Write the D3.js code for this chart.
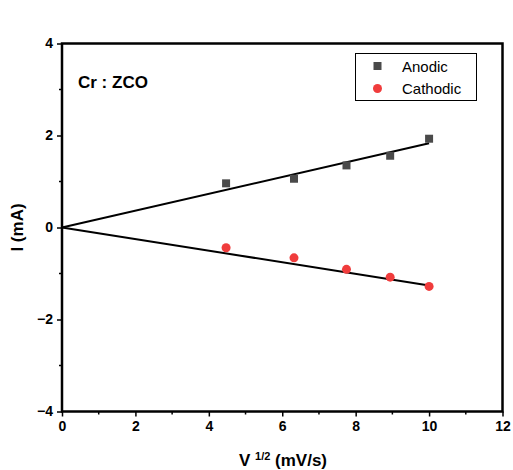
<!DOCTYPE html>
<html>
<head>
  <meta charset="utf-8">
  <title></title>
  <style>
    body { margin: 0; background: #fff; }
    text { font-family: "Liberation Sans", Arial, sans-serif; }
    .axis text { font-weight: bold; font-size: 14px; fill: #000; }
    .axis path, .axis line { stroke: #000; }
  </style>
</head>
<body>
<svg width="513" height="470"></svg>
<script src="https://cdn.jsdelivr.net/npm/d3@7"></script>
<script>

// sqrt of scan rate (20, 40, 60, 80, 100 mV/s)
var sqrtRate = [4.47, 6.32, 7.75, 8.94, 10];
var anodic = [0.96, 1.06, 1.35, 1.56, 1.93];
var cathodic = [-0.44, -0.66, -0.91, -1.08, -1.28];
// linear fits through the origin
var fitAnodic = [[0, 0], [10, 1.83]];
var fitCathodic = [[0, 0], [10, -1.26]];
var xTicks = [0, 2, 4, 6, 8, 10, 12];
var yTicks = [-4, -2, 0, 2, 4];

var svg = d3.select("svg");

var pLeft = 62, pRight = 502.5, pTop = 43.5, pBottom = 411.5;

var x = d3.scaleLinear().domain([0, 12]).range([pLeft, pRight]);
var y = d3.scaleLinear().domain([-4, 4]).range([pBottom, pTop]);

// minor ticks
svg.append("g")
	.attr("transform", "translate(0," + pBottom + ")")
	.selectAll("line")
	.data(d3.range(1, 12, 2))
	.enter().append("line")
	.attr("x1", function(d) { return x(d); })
	.attr("x2", function(d) { return x(d); })
	.attr("y1", 0).attr("y2", 3)
	.attr("stroke", "#000").attr("stroke-width", 1.5);

svg.append("g")
	.selectAll("line")
	.data(d3.range(-3, 4, 2))
	.enter().append("line")
	.attr("y1", function(d) { return y(d); })
	.attr("y2", function(d) { return y(d); })
	.attr("x1", pLeft).attr("x2", pLeft - 3)
	.attr("stroke", "#000").attr("stroke-width", 1.5);

var xAxis = svg.append("g")
	.attr("class", "axis")
	.attr("transform", "translate(0," + pBottom + ")")
	.call(d3.axisBottom(x).tickValues(xTicks).tickSize(5).tickSizeOuter(0).tickPadding(5));

var yAxis = svg.append("g")
	.attr("class", "axis")
	.attr("transform", "translate(" + pLeft + ",0)")
	.call(d3.axisLeft(y).tickValues(yTicks).tickSize(5).tickSizeOuter(0).tickPadding(4)
		.tickFormat(function(d) { return d < 0 ? "\u2212" + Math.abs(d) : d; }));

xAxis.selectAll("line").attr("stroke-width", 1.5);
yAxis.selectAll("line").attr("stroke-width", 1.5);
xAxis.select(".domain").remove();
yAxis.select(".domain").remove();

// frame
svg.append("rect")
	.attr("x", pLeft).attr("y", pTop)
	.attr("width", pRight - pLeft).attr("height", pBottom - pTop)
	.attr("fill", "none").attr("stroke", "#000").attr("stroke-width", 2.5);

// fit lines
var line = d3.line()
	.x(function(d) { return x(d[0]); })
	.y(function(d) { return y(d[1]); });

svg.append("path").datum(fitAnodic)
	.attr("d", line).attr("fill", "none").attr("stroke", "#000").attr("stroke-width", 2);
svg.append("path").datum(fitCathodic)
	.attr("d", line).attr("fill", "none").attr("stroke", "#000").attr("stroke-width", 2);

// points
svg.append("g").selectAll("rect")
	.data(anodic)
	.enter().append("rect")
	.attr("x", function(d, i) { return x(sqrtRate[i]) - 4; })
	.attr("y", function(d) { return y(d) - 4; })
	.attr("width", 8).attr("height", 8)
	.attr("fill", "#4a4a4a");

svg.append("g").selectAll("circle")
	.data(cathodic)
	.enter().append("circle")
	.attr("cx", function(d, i) { return x(sqrtRate[i]); })
	.attr("cy", function(d) { return y(d); })
	.attr("r", 4.5)
	.attr("fill", "#f03c3c");

// legend
var lg = svg.append("g");
lg.append("rect")
	.attr("x", 355.5).attr("y", 53.5).attr("width", 121).attr("height", 47)
	.attr("fill", "#fff").attr("stroke", "#000").attr("stroke-width", 1);
lg.append("rect")
	.attr("x", 373.5).attr("y", 62).attr("width", 8).attr("height", 8).attr("fill", "#4a4a4a");
lg.append("circle")
	.attr("cx", 377.5).attr("cy", 88.5).attr("r", 4.5).attr("fill", "#f03c3c");
lg.append("text")
	.attr("x", 402).attr("y", 71.5)
	.attr("font-size", "15px").text("Anodic");
lg.append("text")
	.attr("x", 402).attr("y", 94)
	.attr("font-size", "15px").text("Cathodic");

// sample label
svg.append("text")
	.attr("x", 78).attr("y", 88)
	.attr("font-size", "17px").attr("font-weight", "bold")
	.text("Cr : ZCO");

// axis titles
svg.append("text")
	.attr("transform", "translate(23," + y(0) + ") rotate(-90)")
	.attr("text-anchor", "middle")
	.attr("font-size", "17px").attr("font-weight", "bold")
	.text("I (mA)");

var xt = svg.append("text")
	.attr("x", 283).attr("y", 466)
	.attr("text-anchor", "middle")
	.attr("font-size", "17px").attr("font-weight", "bold");
xt.append("tspan").text("V ");
xt.append("tspan").attr("font-size", "11px").attr("dy", -6).text("1/2");
xt.append("tspan").attr("dy", 6).text(" (mV/s)");

</script>
</body>
</html>
